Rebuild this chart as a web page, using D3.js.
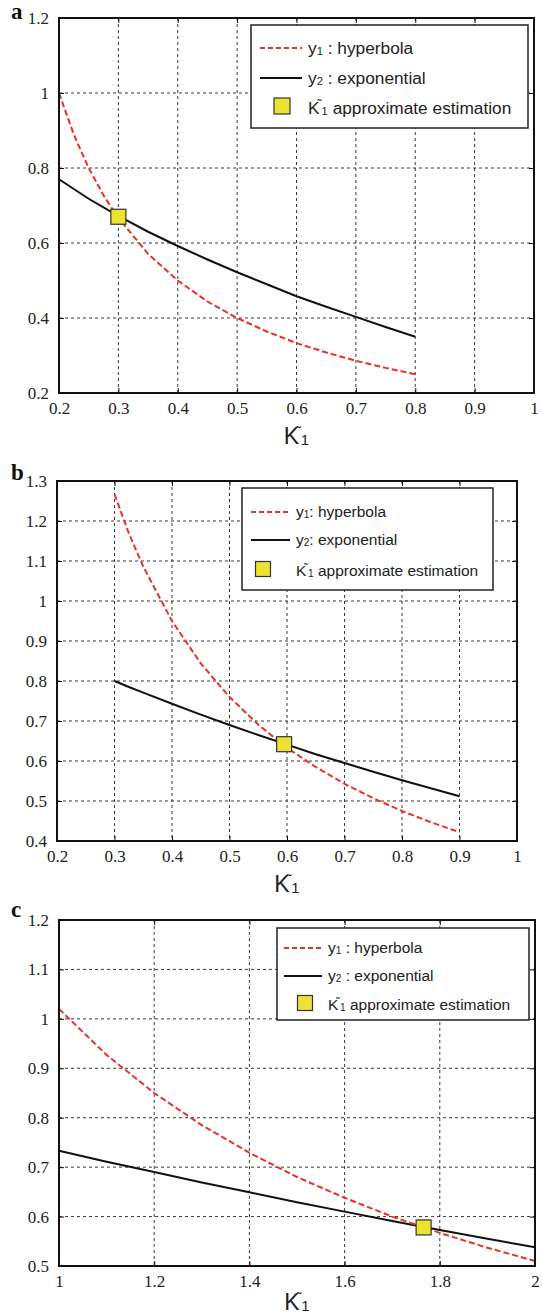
<!DOCTYPE html>
<html>
<head>
<meta charset="utf-8">
<script src="https://cdn.jsdelivr.net/npm/d3@7"></script>
<style>
  html, body { margin: 0; padding: 0; background: #fff; }
  svg { display: block; }
</style>
</head>
<body>
<svg id="chart" width="542" height="1314"></svg>
<script>
// ---------------- DATA ----------------
const panelNames = ["a", "b", "c"];

// Panel a
const aX      = [0.2, 0.225, 0.25, 0.275, 0.3, 0.35, 0.4, 0.45, 0.5, 0.55, 0.6, 0.65, 0.7, 0.75, 0.8];
const aHyper  = [1.0, 0.889, 0.80, 0.727, 0.667, 0.571, 0.50, 0.444, 0.40, 0.364, 0.333, 0.308, 0.286, 0.267, 0.25];
const aExp    = [0.770, 0.744, 0.718, 0.695, 0.672, 0.630, 0.592, 0.556, 0.522, 0.490, 0.458, 0.430, 0.403, 0.376, 0.350];
const aMarker = [0.30, 0.670];
const aXTicks = [0.2, 0.3, 0.4, 0.5, 0.6, 0.7, 0.8, 0.9, 1];
const aYTicks = [0.2, 0.4, 0.6, 0.8, 1, 1.2];

// Panel b
const bX      = [0.3, 0.325, 0.35, 0.4, 0.45, 0.5, 0.55, 0.6, 0.65, 0.7, 0.75, 0.8, 0.85, 0.9];
const bHyper  = [1.267, 1.169, 1.086, 0.95, 0.844, 0.76, 0.691, 0.633, 0.585, 0.543, 0.507, 0.475, 0.447, 0.422];
const bExp    = [0.800, 0.785, 0.771, 0.743, 0.716, 0.690, 0.665, 0.641, 0.617, 0.595, 0.573, 0.552, 0.532, 0.512];
const bMarker = [0.595, 0.642];
const bXTicks = [0.2, 0.3, 0.4, 0.5, 0.6, 0.7, 0.8, 0.9, 1];
const bYTicks = [0.4, 0.5, 0.6, 0.7, 0.8, 0.9, 1, 1.1, 1.2, 1.3];

// Panel c
const cX      = [1.0, 1.1, 1.2, 1.3, 1.4, 1.5, 1.6, 1.7, 1.8, 1.9, 2.0];
const cHyper  = [1.02, 0.927, 0.85, 0.785, 0.729, 0.68, 0.638, 0.60, 0.567, 0.537, 0.51];
const cExp    = [0.733, 0.711, 0.690, 0.669, 0.649, 0.629, 0.610, 0.591, 0.573, 0.555, 0.538];
const cMarker = [1.766, 0.578];
const cXTicks = [1, 1.2, 1.4, 1.6, 1.8, 2];
const cYTicks = [0.5, 0.6, 0.7, 0.8, 0.9, 1, 1.1, 1.2];

const legendLabels = {
  hyper: "hyperbola",
  exp: "exponential",
  est: "approximate estimation"
};

// ---------------- LAYOUT ----------------
const panels = [
  { name: "a", x: aX, hyper: aHyper, exp: aExp, marker: aMarker, xTicks: aXTicks, yTicks: aYTicks,
    xDom: [0.2, 1], yDom: [0.2, 1.2], L: 59, R: 534, T: 18, B: 393, titleY: 444, letterY: 19,
    leg: { x: 251, y: 25, w: 277, h: 103, rows: [48, 78, 108], lx0: 260, lx1: 302, tx: 308, sq: 282, sqs: 16, fs: 17.3, colonSpace: true } },
  { name: "b", x: bX, hyper: bHyper, exp: bExp, marker: bMarker, xTicks: bXTicks, yTicks: bYTicks,
    xDom: [0.2, 1], yDom: [0.4, 1.3], L: 57, R: 517, T: 481, B: 841, titleY: 892, letterY: 480,
    leg: { x: 242, y: 488, w: 251, h: 102, rows: [512, 540, 571], lx0: 251, lx1: 290, tx: 296, sq: 263, sqs: 15, fs: 15.5, colonSpace: false } },
  { name: "c", x: cX, hyper: cHyper, exp: cExp, marker: cMarker, xTicks: cXTicks, yTicks: cYTicks,
    xDom: [1, 2], yDom: [0.5, 1.2], L: 59, R: 535, T: 920, B: 1266, titleY: 1310, letterY: 917,
    leg: { x: 277, y: 928, w: 252, h: 92, rows: [948, 976, 1005], lx0: 284, lx1: 322, tx: 328, sq: 305, sqs: 15, fs: 15.5, colonSpace: true } }
];

const RED = "#e8312a";
const YELLOW = "#ebe232";
const SERIF = "'Liberation Serif', 'Times New Roman', serif";
const SANS = "'Liberation Sans', Arial, Helvetica, sans-serif";
const svg = d3.select("#chart");
const fmt = d => (Math.round(d * 10) / 10).toString();

panels.forEach(p => {
  const g = svg.append("g");
  const xs = d3.scaleLinear().domain(p.xDom).range([p.L, p.R]);
  const ys = d3.scaleLinear().domain(p.yDom).range([p.B, p.T]);

  // grid lines
  g.append("g").selectAll("line").data(p.xTicks.slice(1, -1)).join("line")
    .attr("x1", d => xs(d)).attr("x2", d => xs(d)).attr("y1", p.T).attr("y2", p.B)
    .attr("stroke", "#222").attr("stroke-width", 0.9).attr("stroke-dasharray", "3,3");
  g.append("g").selectAll("line").data(p.yTicks.slice(1, -1)).join("line")
    .attr("y1", d => ys(d)).attr("y2", d => ys(d)).attr("x1", p.L).attr("x2", p.R)
    .attr("stroke", "#222").attr("stroke-width", 0.9).attr("stroke-dasharray", "3,3");

  // axes via d3 axes (inward ticks, serif labels)
  const axB = d3.axisBottom(xs).tickValues(p.xTicks).tickFormat(fmt).tickSize(-5).tickPadding(9);
  const axT = d3.axisTop(xs).tickValues(p.xTicks).tickFormat("").tickSize(-5);
  const axL = d3.axisLeft(ys).tickValues(p.yTicks).tickFormat(fmt).tickSize(-5).tickPadding(10);
  const axR = d3.axisRight(ys).tickValues(p.yTicks).tickFormat("").tickSize(-5);
  const styleAxis = sel => {
    sel.attr("font-family", SERIF).attr("font-size", 17);
    sel.select(".domain").remove();
    sel.selectAll(".tick line").attr("stroke", "#111").attr("stroke-width", 1);
    sel.selectAll("text").attr("font-family", SERIF).style("font-family", SERIF)
      .attr("font-size", 17).attr("fill", "#222");
  };
  g.append("g").attr("transform", `translate(0,${p.B})`).call(axB).call(styleAxis);
  g.append("g").attr("transform", `translate(0,${p.T})`).call(axT).call(styleAxis);
  g.append("g").attr("transform", `translate(${p.L},0)`).call(axL).call(styleAxis);
  g.append("g").attr("transform", `translate(${p.R},0)`).call(axR).call(styleAxis);

  // series
  const pts = (vals) => p.x.map((xv, i) => [xv, vals[i]]);
  const line = d3.line().x(d => xs(d[0])).y(d => ys(d[1]));
  g.append("path").datum(pts(p.exp)).attr("d", line)
    .attr("fill", "none").attr("stroke", "#111").attr("stroke-width", 2);
  g.append("path").datum(pts(p.hyper)).attr("d", line)
    .attr("fill", "none").attr("stroke", RED).attr("stroke-width", 2).attr("stroke-dasharray", "6,3");

  // marker
  const ms = 15;
  g.append("rect").attr("x", xs(p.marker[0]) - ms / 2).attr("y", ys(p.marker[1]) - ms / 2)
    .attr("width", ms).attr("height", ms).attr("fill", YELLOW).attr("stroke", "#333").attr("stroke-width", 1.2);

  // frame
  g.append("rect").attr("x", p.L).attr("y", p.T).attr("width", p.R - p.L).attr("height", p.B - p.T)
    .attr("fill", "none").attr("stroke", "#111").attr("stroke-width", 2);

  // panel letter
  g.append("text").attr("x", 11).attr("y", p.letterY)
    .attr("font-family", SERIF).attr("font-weight", "bold")
    .attr("font-size", 23).attr("fill", "#111").text(p.name);

  // x axis title
  const t = g.append("text").attr("x", (p.L + p.R) / 2).attr("y", p.titleY)
    .attr("font-family", SANS).attr("font-size", 23).attr("fill", "#222")
    .attr("text-anchor", "middle");
  t.append("tspan").text("K");
  t.append("tspan").attr("dx", -3).attr("dy", -7).attr("font-size", 14).text("˜");
  t.append("tspan").attr("dx", 0).attr("dy", 8).attr("font-size", 15).text("1");

  // legend
  const L = p.leg;
  const lg = g.append("g");
  lg.append("rect").attr("x", L.x).attr("y", L.y).attr("width", L.w).attr("height", L.h)
    .attr("fill", "#fff").attr("stroke", "#222").attr("stroke-width", 1.5);
  lg.append("line").attr("x1", L.lx0).attr("x2", L.lx1).attr("y1", L.rows[0]).attr("y2", L.rows[0])
    .attr("stroke", RED).attr("stroke-width", 2).attr("stroke-dasharray", "5,3");
  lg.append("line").attr("x1", L.lx0).attr("x2", L.lx1).attr("y1", L.rows[1]).attr("y2", L.rows[1])
    .attr("stroke", "#111").attr("stroke-width", 2);
  lg.append("rect").attr("x", L.sq - L.sqs / 2).attr("y", L.rows[2] - L.sqs / 2 - 2)
    .attr("width", L.sqs).attr("height", L.sqs).attr("fill", YELLOW).attr("stroke", "#333").attr("stroke-width", 1.2);

  const legText = (row, parts) => {
    const tt = lg.append("text").attr("x", L.tx).attr("y", L.rows[row] + L.fs * 0.35)
      .attr("font-family", SANS).attr("font-size", L.fs).attr("fill", "#222");
    parts(tt);
  };
  const sep = L.colonSpace ? " : " : ": ";
  legText(0, tt => {
    tt.append("tspan").text("y");
    tt.append("tspan").attr("font-size", L.fs * 0.65).attr("dy", 1).text("1");
    tt.append("tspan").attr("dy", -1).text(sep + legendLabels.hyper);
  });
  legText(1, tt => {
    tt.append("tspan").text("y");
    tt.append("tspan").attr("font-size", L.fs * 0.65).attr("dy", 1).text("2");
    tt.append("tspan").attr("dy", -1).text(sep + legendLabels.exp);
  });
  legText(2, tt => {
    tt.append("tspan").text("K");
    tt.append("tspan").attr("dx", -2).attr("dy", -5).attr("font-size", L.fs * 0.7).text("˜");
    tt.append("tspan").attr("dy", 6).attr("font-size", L.fs * 0.65).text("1");
    tt.append("tspan").attr("dy", -1).text(" " + legendLabels.est);
  });
});
</script>
</body>
</html>
